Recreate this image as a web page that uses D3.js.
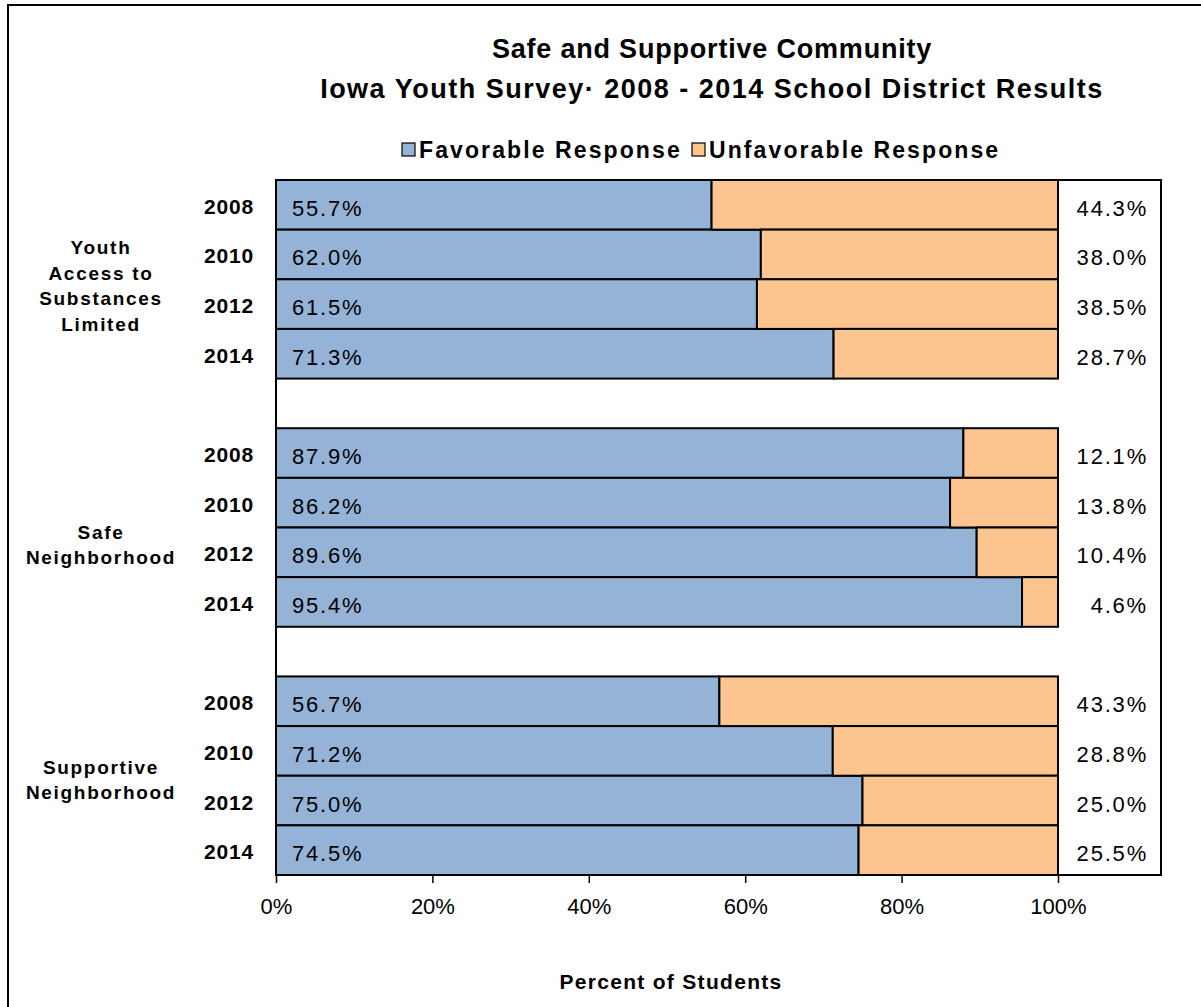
<!DOCTYPE html>
<html>
<head>
<meta charset="utf-8">
<script src="https://cdn.jsdelivr.net/npm/d3@7"></script>
<style>
  body { margin: 0; background: #fff; }
  svg { display: block; font-family: "Liberation Sans", Arial, sans-serif; }
</style>
</head>
<body>
<svg id="chart" width="1201" height="1007"></svg>
<script>
const titleLines = ["Safe and Supportive Community", "Iowa Youth Survey\u00B7 2008 - 2014 School District Results"];
const groups = ["Youth Access to Substances Limited", "Safe Neighborhood", "Supportive Neighborhood"];
const groupLabelLines = [["Youth", "Access to", "Substances", "Limited"], ["Safe", "Neighborhood"], ["Supportive", "Neighborhood"]];
const years = ["2008", "2010", "2012", "2014"];
const favorable = [
  [55.7, 62.0, 61.5, 71.3],
  [87.9, 86.2, 89.6, 95.4],
  [56.7, 71.2, 75.0, 74.5]
];
const unfavorable = [
  [44.3, 38.0, 38.5, 28.7],
  [12.1, 13.8, 10.4, 4.6],
  [43.3, 28.8, 25.0, 25.5]
];
const seriesNames = ["Favorable Response", "Unfavorable Response"];
const tickValues = [0, 20, 40, 60, 80, 100];
const axisTitle = "Percent of Students";

const colors = ["#95B3D7", "#FCC48F"];
const svg = d3.select("#chart");

// outer border
svg.append("rect").attr("x", 8).attr("y", 5).attr("width", 1200).attr("height", 1010)
  .attr("fill", "none").attr("stroke", "#000").attr("stroke-width", 2);

const plot = { left: 276, right: 1161, top: 180, bottom: 875 };
const x = d3.scaleLinear().domain([0, 100]).range([plot.left, 1058]);
const yGroup = d3.scaleBand().domain(groups).range([plot.top, plot.bottom]).paddingInner(0.2).paddingOuter(0);
const yYear = d3.scaleBand().domain(years).range([0, yGroup.bandwidth()]).padding(0);

// plot area border
svg.append("rect").attr("x", plot.left).attr("y", plot.top)
  .attr("width", plot.right - plot.left).attr("height", plot.bottom - plot.top)
  .attr("fill", "#fff").attr("stroke", "#000").attr("stroke-width", 2);

// title
svg.append("g").selectAll("text").data(titleLines).join("text")
  .attr("x", 712).attr("y", (d, i) => 58 + i * 40)
  .attr("text-anchor", "middle").attr("font-weight", "bold").attr("font-size", 27)
  .attr("letter-spacing", (d, i) => i === 0 ? 0.8 : 1.5)
  .text(d => d);

// legend
const legend = svg.append("g");
const legendItems = [{ x: 402, name: seriesNames[0], c: colors[0] }, { x: 692, name: seriesNames[1], c: colors[1] }];
legendItems.forEach(it => {
  legend.append("rect").attr("x", it.x).attr("y", 143).attr("width", 13).attr("height", 13)
    .attr("fill", it.c).attr("stroke", "#000").attr("stroke-width", 1.2);
  legend.append("text").attr("x", it.x + 17).attr("y", 158)
    .attr("font-weight", "bold").attr("font-size", 23).attr("letter-spacing", 2.1).text(it.name);
});

// bars
const rows = [];
groups.forEach((g, gi) => years.forEach((yr, yi) => rows.push({ g, gi, yr, yi, fav: favorable[gi][yi], unf: unfavorable[gi][yi] })));
const rowY = d => yGroup(d.g) + yYear(d.yr);
const barsG = svg.append("g");
barsG.selectAll("rect.fav").data(rows).join("rect").attr("class", "fav")
  .attr("x", x(0)).attr("y", rowY)
  .attr("width", d => x(d.fav) - x(0)).attr("height", yYear.bandwidth())
  .attr("fill", colors[0]).attr("stroke", "#000").attr("stroke-width", 2);
barsG.selectAll("rect.unf").data(rows).join("rect").attr("class", "unf")
  .attr("x", d => x(d.fav)).attr("y", rowY)
  .attr("width", d => x(d.fav + d.unf) - x(d.fav)).attr("height", yYear.bandwidth())
  .attr("fill", colors[1]).attr("stroke", "#000").attr("stroke-width", 2);

// value labels
svg.append("g").selectAll("text").data(rows).join("text")
  .attr("x", 292).attr("y", d => rowY(d) + yYear.bandwidth() / 2 + 11)
  .attr("font-size", 22).attr("letter-spacing", 1.8).text(d => d.fav.toFixed(1) + "%");
svg.append("g").selectAll("text").data(rows).join("text")
  .attr("x", 1148).attr("y", d => rowY(d) + yYear.bandwidth() / 2 + 11)
  .attr("text-anchor", "end").attr("font-size", 22).attr("letter-spacing", 1.8).text(d => d.unf.toFixed(1) + "%");

// year labels
svg.append("g").selectAll("text").data(rows).join("text")
  .attr("x", 254).attr("y", d => rowY(d) + yYear.bandwidth() / 2 + 9)
  .attr("text-anchor", "end").attr("font-weight", "bold").attr("font-size", 21)
  .attr("letter-spacing", 0.8).text(d => d.yr);

// group labels
const groupOffsets = [6, 17, 4];
groups.forEach((g, gi) => {
  const lines = groupLabelLines[gi];
  const cy = yGroup(g) + yGroup.bandwidth() / 2 + groupOffsets[gi];
  svg.append("g").selectAll("text").data(lines).join("text")
    .attr("x", 101).attr("y", (d, i) => cy + (i - (lines.length - 1) / 2) * 25.5 + 7)
    .attr("text-anchor", "middle").attr("font-weight", "bold").attr("font-size", 19)
    .attr("letter-spacing", 1.7).text(d => d);
});

// x axis
const axis = d3.axisBottom(x).tickValues(tickValues).tickFormat(d => d + "%").tickSize(8).tickPadding(15);
const ax = svg.append("g").attr("transform", `translate(0,${plot.bottom})`).call(axis);
ax.select(".domain").remove();
ax.selectAll(".tick line").attr("stroke", "#000").attr("stroke-width", 1.5);
ax.selectAll(".tick text").attr("font-size", 22).attr("fill", "#000")
  .attr("font-family", "Liberation Sans, Arial, sans-serif");

svg.append("text").attr("x", 671).attr("y", 989).attr("text-anchor", "middle")
  .attr("font-weight", "bold").attr("font-size", 21).attr("letter-spacing", 1.3).text(axisTitle);
</script>
</body>
</html>
